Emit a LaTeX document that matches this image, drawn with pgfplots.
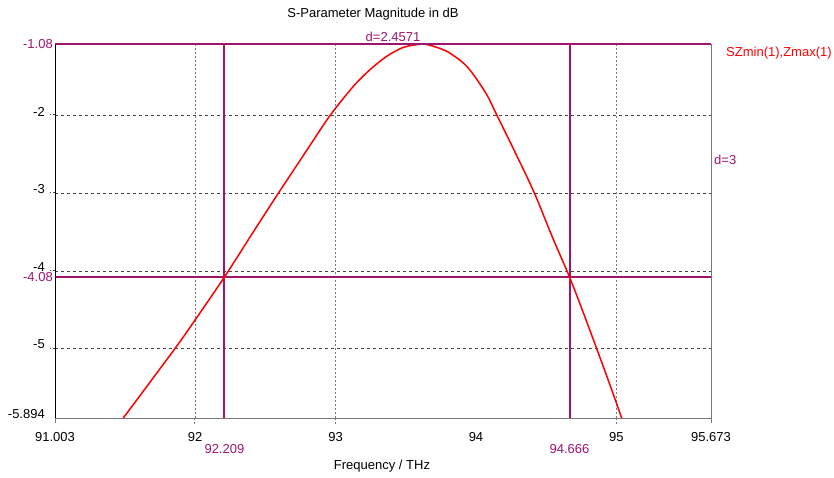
\documentclass[border=0pt]{standalone}
\usepackage{fontspec}
\setmainfont{Liberation Sans}
\usepackage{pgfplots}
\pgfplotsset{compat=1.18}
\definecolor{mk}{RGB}{160,20,110}
\definecolor{gridc}{RGB}{70,70,70}
\definecolor{axg}{RGB}{120,120,120}
\begin{document}
\fontsize{13}{15}\selectfont
\begin{tikzpicture}
\begin{axis}[name=ax, at={(0,0)}, anchor=south west,
  scale only axis, width=656pt, height=374pt,
  xmin=91.003, xmax=95.673, ymin=-5.894, ymax=-1.08,
  axis line style={axg, line width=0.8pt},
  xtick={91.003,92,93,94,95,95.673},
  xticklabels={91.003,92,93,94,95,95.673},
  ytick={-5.894,-5,-4,-3,-2},
  yticklabels={-5.894,-5,-4,-3,-2},
  extra x ticks={92.209,94.666},
  extra x tick labels={92.209,94.666},
  extra x tick style={xticklabel style={text=mk, yshift=-12pt}},
  extra y ticks={-1.08,-4.08},
  extra y tick labels={-1.08,-4.08},
  extra y tick style={yticklabel style={text=mk, yshift=-4pt, xshift=8pt}},
  tick align=outside, major tick length=4pt,
  xtick style={draw=none},
  ytick style={draw=none},
  yticklabel style={font=\fontsize{13}{15}\selectfont, yshift=4pt, xshift=-5pt, inner sep=1pt},
  xticklabel style={font=\fontsize{13}{15}\selectfont, inner sep=1pt, yshift=-9pt},
  /pgf/number format/assume math mode=true,
  clip=true,
]
% grid lines
\foreach \yy in {-2,-3,-4,-5} {
  \edef\tmp{\noexpand\draw[gridc, dash pattern=on 3pt off 3pt, line width=0.6pt] (axis cs:91.003,\yy) -- (axis cs:95.673,\yy);}
  \tmp
}
\foreach \xx in {92,93,95} {
  \edef\tmp{\noexpand\draw[axg, dash pattern=on 2pt off 2pt, line width=0.8pt] (axis cs:\xx,-5.894) -- (axis cs:\xx,-1.08);}
  \tmp
}
% marker lines
\addplot[mk, line width=2pt] coordinates {(91.003,-1.08) (95.673,-1.08)};
\addplot[mk, line width=2pt] coordinates {(91.003,-4.08) (95.673,-4.08)};
\addplot[mk, line width=2pt] coordinates {(92.209,-1.08) (92.209,-5.894)};
\addplot[mk, line width=2pt] coordinates {(94.666,-1.08) (94.666,-5.894)};
% curve
\addplot[red, line width=1.5pt, smooth, tension=0.5] coordinates {
(91.489,-5.894) (91.857,-5.0) (92.0,-4.633) (92.209,-4.08)
(92.4,-3.54) (92.593,-3.0) (92.78,-2.49) (92.961,-2.0)
(93.127,-1.625) (93.245,-1.411) (93.364,-1.239) (93.483,-1.123)
(93.61,-1.082) (93.673,-1.097) (93.792,-1.174) (93.91,-1.325)
(93.98,-1.47) (94.076,-1.73) (94.147,-1.99) (94.28,-2.48)
(94.416,-3.0) (94.54,-3.55) (94.666,-4.08) (94.76,-4.52)
(94.859,-5.0) (94.95,-5.45) (95.037,-5.894)};
\end{axis}
% left axis black, tick stubs
\draw[black, line width=0.8pt] (ax.south west) -- (ax.north west);
\draw[mk, line width=2pt] (ax.north west) -- (ax.north east);
\foreach \dx in {0,656} { \draw[axg, line width=0.8pt] ([shift={(\dx pt,0pt)}]ax.south west) -- ++(0,-5pt); }
\foreach \dx in {139.6,280.1,561.0} { \draw[axg, dash pattern=on 2pt off 2pt, line width=0.8pt] ([shift={(\dx pt,0pt)}]ax.south west) -- ++(0,-6pt); }
\foreach \dy in {70.2,147.9,225.6,303.3} { \draw[gridc, dash pattern=on 2pt off 2pt, line width=0.6pt] ([shift={(0pt,\dy pt)}]ax.south west) -- ++(-5pt,0); }
% texts
\node[text=black] at ([shift={(318pt,404pt)}]ax.south west) {S-Parameter Magnitude in dB};
\node[text=black] at ([shift={(327pt,-48pt)}]ax.south west) {Frequency / THz};
\node[text=mk] at ([shift={(338pt,381pt)}]ax.south west) {d=2.4571};
\node[text=mk, anchor=west, inner sep=0pt] at ([shift={(659pt,258pt)}]ax.south west) {d=3};
\node[text=red, anchor=west, inner sep=0pt] at ([shift={(671pt,365pt)}]ax.south west) {SZmin(1),Zmax(1)};
\pgfresetboundingbox
\path[use as bounding box] (ax.south west) ++(-55pt,-59pt) rectangle ++(834pt,477pt);
\end{tikzpicture}
\end{document}
